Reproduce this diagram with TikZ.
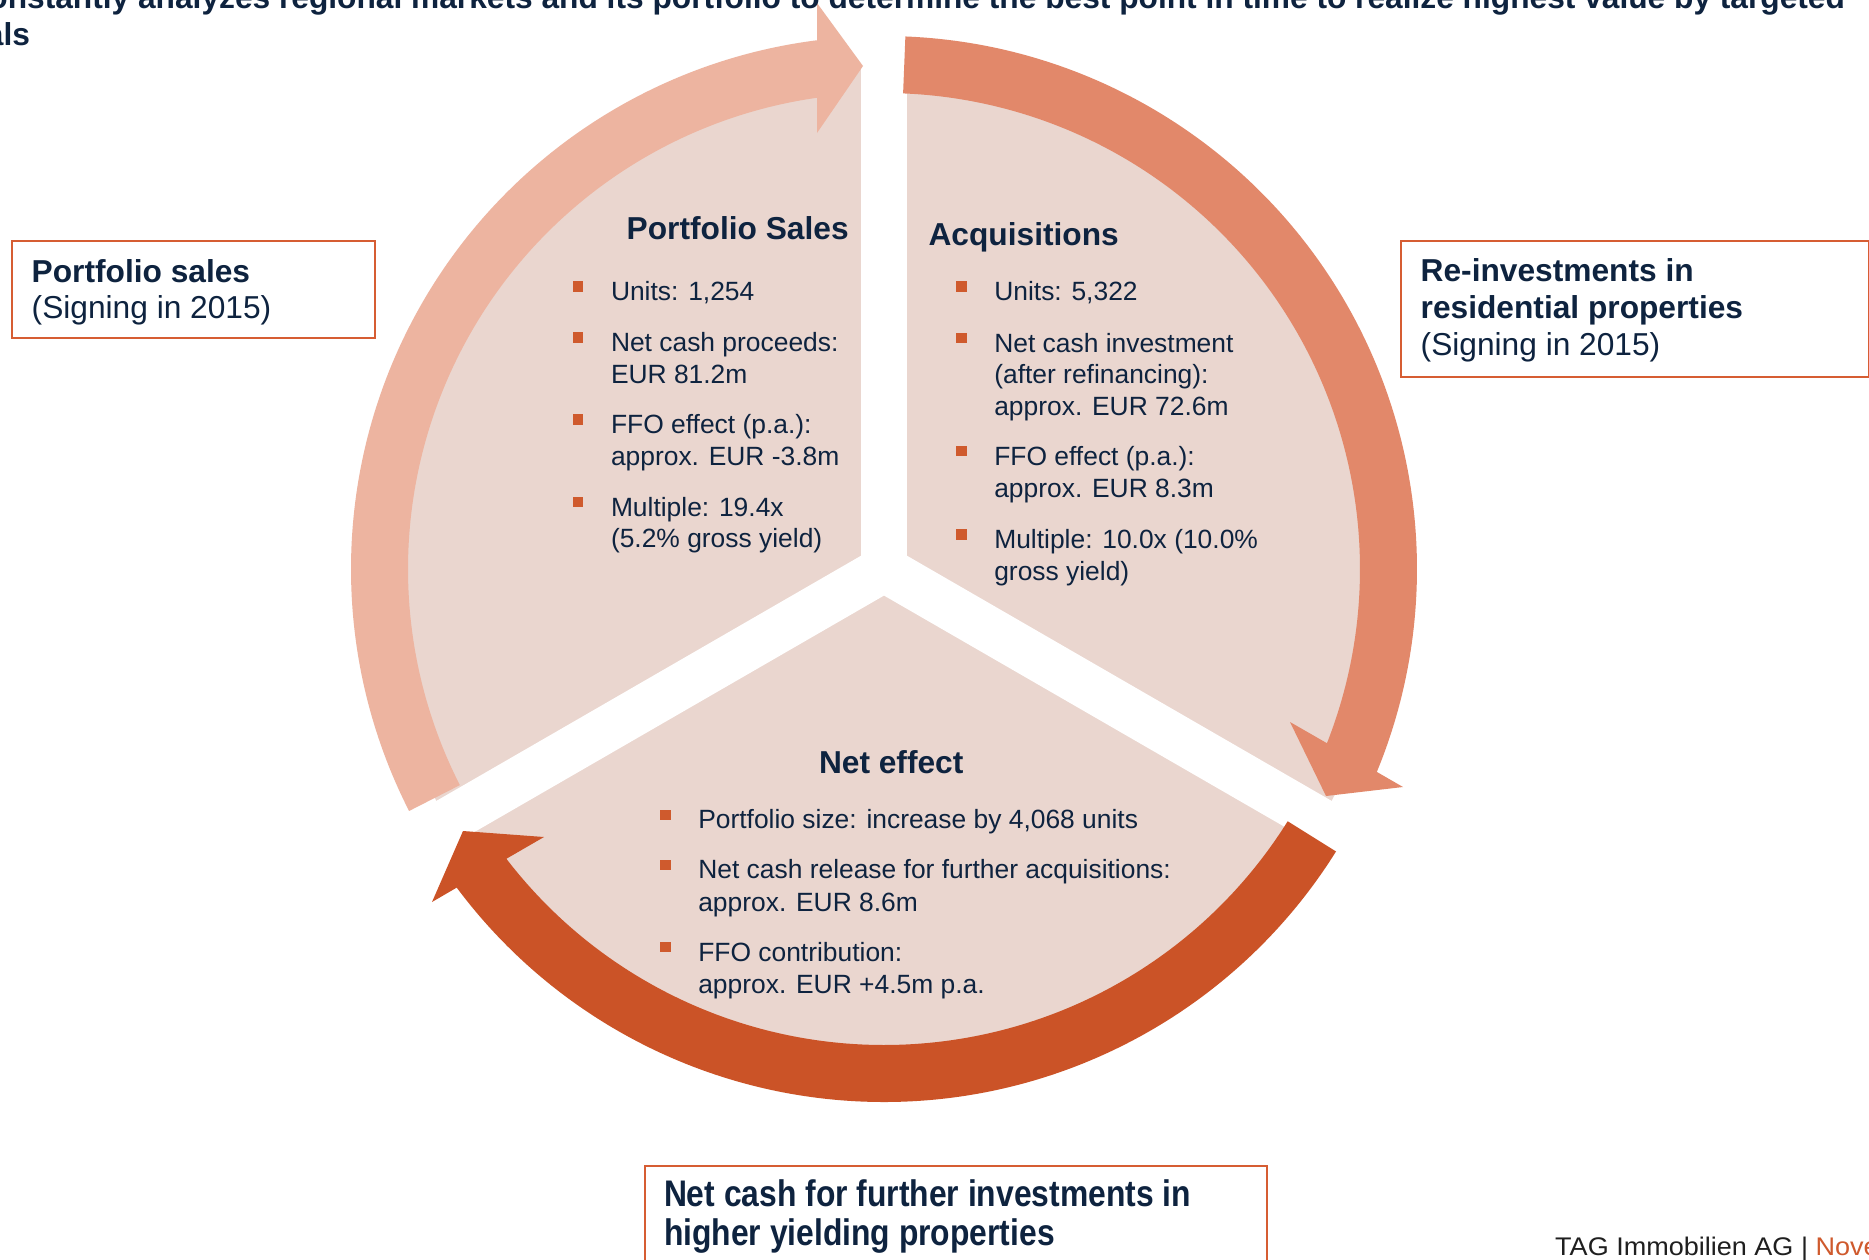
\documentclass[tikz,border=0pt]{standalone}
\usepackage{fontspec}
\setmainfont{Liberation Sans}
\newfontfamily\tallfont[FakeStretch=0.86]{Liberation Sans}
\newfontfamily\widefont[FakeStretch=1.06]{Liberation Sans}
\usetikzlibrary{calc}
\definecolor{piefill}{HTML}{EAD6CF}
\definecolor{arrA}{HTML}{EDB4A0}
\definecolor{arrB}{HTML}{E2886A}
\definecolor{arrC}{HTML}{CB5327}
\definecolor{navy}{HTML}{0E233F}
\definecolor{boxline}{HTML}{D65D33}
\definecolor{bul}{HTML}{CF5A2D}
\tikzset{
  txt/.style={anchor=base west, inner sep=0, outer sep=0, text=navy, font=\fontsize{26.4}{32}\selectfont},
  headtxt/.style={anchor=base west, inner sep=0, outer sep=0, text=navy, font=\fontsize{31.7}{36.5}\selectfont\bfseries},
  regtxt/.style={anchor=base west, inner sep=0, outer sep=0, text=navy, font=\fontsize{31.7}{36.5}\selectfont},
  talltxt/.style={anchor=base west, inner sep=0, outer sep=0, text=navy, font=\fontsize{37}{42}\tallfont\bfseries},
  sq/.style={fill=bul, draw=none, inner sep=0, minimum size=10.5},
  frame/.style={draw=boxline, line width=2},
}
\newcommand{\bitem}[4]{\node[sq] (#1sq) at ({#2+5.25},{-#3+14}) {}; \node[txt] (#1) at ({#2+38.3},{-#3}) {#4};}
\newcommand{\tline}[4]{\node[txt] (#1) at (#2,{-#3}) {#4};}
\begin{document}
\begin{tikzpicture}[x=1pt,y=1pt]
\useasboundingbox (0,0) rectangle (1869,-1259);
\clip (0,0) rectangle (1869,-1259);
\fill[white] (0,0) rectangle (1869,-1259);
\coordinate (C) at (884,-569);
% pie with white gaps
\fill[piefill] (C) circle[radius=504];
\foreach \a in {90,210,330} \draw[white, line width=46] (C) -- ($(C)+(\a:570)$);
% left arrow (portfolio sales)
\fill[arrA] ($(C)+(207:533)$) arc[start angle=207, end angle=97.22, radius=533]
  -- (817,-3) -- (863,-66) -- (817,-133)
  -- ($(C)+(98.09:476)$) arc[start angle=98.09, end angle=207, radius=476] -- cycle;
% right arrow (acquisitions)
\fill[arrB] ($(C)+(87.7:533)$) arc[start angle=87.7, end angle=-22.38, radius=533]
  -- (1403,-787) -- (1326,-796) -- (1290,-722)
  -- ($(C)+(-21.47:476)$) arc[start angle=-21.47, end angle=87.7, radius=476] -- cycle;
% bottom arrow (net effect)
\fill[arrC] ($(C)+(-32:533)$) arc[start angle=-32, end angle=-143.29, radius=533]
  -- (432,-902) -- (463,-831) -- (544,-837)
  -- ($(C)+(-142.5:476)$) arc[start angle=-142.5, end angle=-32, radius=476] -- cycle;
% top text (clipped)
\node[headtxt, anchor=base east] (topA) at (1845,-8.5) {constantly analyzes regional markets and its portfolio to determine the best point in time to realize highest value by targeted};
\node[headtxt, anchor=base east] (topB) at (30,-45.5) {deals};
% portfolio sales block
\node[headtxt] (hPS) at (626.7,-239.3) {Portfolio Sales};
\bitem{ps1}{572.7}{300.7}{Units: 1,254}
\bitem{ps2}{572.7}{351.7}{Net cash proceeds:}
\tline{ps2b}{611}{383.3}{EUR 81.2m}
\bitem{ps3}{572.7}{433.3}{FFO effect (p.a.):}
\tline{ps3b}{611}{465.7}{approx. EUR -3.8m}
\bitem{ps4}{572.7}{516}{Multiple: 19.4x}
\tline{ps4b}{611}{547.5}{(5.2\% gross yield)}
% acquisitions block
\node[headtxt] (hAQ) at (928.6,-245) {Acquisitions};
\bitem{aq1}{956}{300.7}{Units: 5,322}
\bitem{aq2}{956}{352}{Net cash investment}
\tline{aq2b}{994.3}{383.5}{(after refinancing):}
\tline{aq2c}{994.3}{415.2}{approx. EUR 72.6m}
\bitem{aq3}{956}{465.2}{FFO effect (p.a.):}
\tline{aq3b}{994.3}{497.2}{approx. EUR 8.3m}
\bitem{aq4}{956}{548.7}{Multiple: 10.0x (10.0\%}
\tline{aq4b}{994.3}{580.7}{gross yield)}
% net effect block
\node[headtxt] (hNE) at (819,-773.3) {Net effect};
\bitem{ne1}{660}{828.8}{Portfolio size: increase by 4,068 units}
\bitem{ne2}{660}{878.9}{Net cash release for further acquisitions:}
\tline{ne2b}{698.3}{911}{approx. EUR 8.6m}
\bitem{ne3}{660}{961}{FFO contribution:}
\tline{ne3b}{698.3}{993.3}{approx. EUR +4.5m p.a.}
% side boxes
\node[frame, minimum width=363, minimum height=97, inner sep=0, anchor=north west] (boxL) at (11,-240) {};
\node[headtxt] (boxL1) at (31.7,-282.3) {Portfolio sales};
\node[regtxt] (boxL2) at (31.7,-318.5) {(Signing in 2015)};
\node[frame, minimum width=468, minimum height=136, inner sep=0, anchor=north west] (boxR) at (1400,-240) {};
\node[headtxt] (boxR1) at (1420.7,-281.7) {Re-investments in};
\node[headtxt] (boxR2) at (1420.7,-318.3) {residential properties};
\node[regtxt] (boxR3) at (1420.7,-355) {(Signing in 2015)};
\node[frame, minimum width=622, minimum height=120, inner sep=0, anchor=north west] (boxB) at (644,-1165) {};
\node[talltxt] (boxB1) at (664,-1206) {Net cash for further investments in};
\node[talltxt] (boxB2) at (664,-1245) {higher yielding properties};
% footer
\node[anchor=base west, inner sep=0, font=\fontsize{25.5}{30}\widefont] (foot) at (1555,-1255) {\textcolor{black!88}{TAG Immobilien AG |} \textcolor{bul}{November}};
\end{tikzpicture}
\end{document}
